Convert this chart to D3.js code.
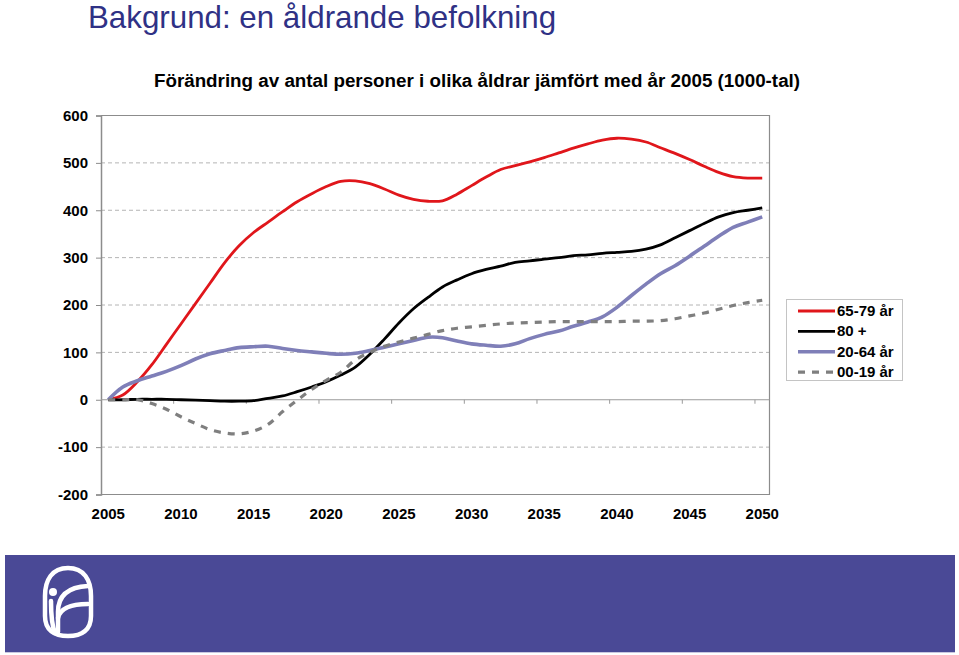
<!DOCTYPE html>
<html>
<head>
<meta charset="utf-8">
<script src="https://cdn.jsdelivr.net/npm/d3@7/dist/d3.min.js"></script>
<style>
  html, body { margin: 0; padding: 0; background: #fff; }
  svg { display: block; }
  text { font-family: "Liberation Sans", Arial, Helvetica, sans-serif; }
</style>
</head>
<body>
<svg id="chart" width="959" height="655"></svg>
<script>
// ---- DATA ----
const years = d3.range(2005, 2051);
const yTicks = [-200, -100, 0, 100, 200, 300, 400, 500, 600];
const xTickLabels = [2005, 2010, 2015, 2020, 2025, 2030, 2035, 2040, 2045, 2050];
const seriesNames = ["65-79 år", "80 +", "20-64 år", "00-19 år"];

const age6579 = [0, 10, 38, 74, 117, 160, 203, 246, 289, 325,
  353, 375, 397, 418, 435, 450, 461, 462, 456, 445,
  432, 423, 419, 420, 434, 452, 470, 486, 494, 502,
  511, 521, 531, 540, 548, 552, 550, 544, 532, 520,
  507, 493, 480, 471, 468, 468];
const age80 = [0, 0, 1, 1, 1, 0, -1, -2, -3, -3,
  -2, 3, 8, 17, 27, 38, 52, 69, 96, 128,
  162, 192, 216, 238, 253, 266, 275, 282, 290, 293,
  297, 300, 304, 306, 309, 311, 313, 318, 327, 342,
  357, 372, 386, 395, 400, 405];
const age2064 = [0, 27, 40, 50, 60, 72, 86, 97, 104, 110,
  112, 113, 108, 104, 101, 98, 96, 98, 104, 111,
  118, 125, 132, 131, 124, 118, 115, 113, 118, 129,
  138, 145, 155, 164, 175, 195, 220, 244, 266, 283,
  303, 324, 345, 364, 375, 386];
const age0019 = [0, 0, 0, -8, -20, -36, -50, -63, -70, -72,
  -66, -52, -25, -1, 22, 41, 58, 84, 100, 113,
  122, 130, 138, 146, 151, 154, 157, 160, 162, 163,
  164, 165, 165, 165, 165, 165, 166, 166, 167, 171,
  177, 183, 191, 199, 205, 210];

const seriesValues = [age6579, age80, age2064, age0019];
const seriesColors = ["#e0161b", "#000000", "#7f7fb8", "#7f7f7f"];
const seriesWidths = [2.8, 2.8, 3.6, 3.2];
const seriesDash = [null, null, null, "7,7"];

// ---- LAYOUT ----
const svg = d3.select("#chart");
const plot = { left: 101, right: 769.5, top: 115.5, bottom: 494.5 };

const x = d3.scaleBand().domain(years).range([plot.left, plot.right]).padding(0);
const xc = d => x(d) + x.bandwidth() / 2;
const y = d3.scaleLinear().domain([-200, 600]).range([plot.bottom, plot.top]);

// Title
svg.append("text")
  .attr("x", 88).attr("y", 27.5)
  .attr("font-size", 31.3)
  .attr("fill", "#2f3185")
  .text("Bakgrund: en åldrande befolkning");

// Subtitle
svg.append("text")
  .attr("x", 477).attr("y", 87)
  .attr("text-anchor", "middle")
  .attr("font-size", 18.8).attr("font-weight", "bold")
  .attr("fill", "#000")
  .text("Förändring av antal personer i olika åldrar jämfört med år 2005 (1000-tal)");

// Grid lines (dashed)
svg.append("g").selectAll("line")
  .data(yTicks.filter(v => v !== 600 && v !== -200 && v !== 0))
  .join("line")
  .attr("x1", plot.left).attr("x2", plot.right)
  .attr("y1", d => y(d)).attr("y2", d => y(d))
  .attr("stroke", "#b4b4b4").attr("stroke-width", 1)
  .attr("stroke-dasharray", "4,3");

// Plot frame (top, right, bottom)
svg.append("path")
  .attr("d", `M${plot.left},${plot.top}H${plot.right}V${plot.bottom}H${plot.left}`)
  .attr("fill", "none").attr("stroke", "#8c8c8c").attr("stroke-width", 1.2);

// Y axis
const yAxis = d3.axisLeft(y).tickValues(yTicks).tickSize(5).tickPadding(8)
  .tickFormat(d => String(d));
const gy = svg.append("g").attr("transform", `translate(${plot.left},0)`).call(yAxis);
gy.select(".domain").attr("stroke", "#8c8c8c").attr("stroke-width", 1.5);
gy.selectAll(".tick line").attr("stroke", "#8c8c8c");
gy.selectAll(".tick text")
  .attr("font-family", "'Liberation Sans', Arial, sans-serif")
  .attr("font-size", 15).attr("font-weight", "bold").attr("fill", "#000");

// Zero axis line with tick marks between categories every 5 years
svg.append("line")
  .attr("x1", plot.left).attr("x2", plot.right)
  .attr("y1", y(0)).attr("y2", y(0))
  .attr("stroke", "#9a9a9a").attr("stroke-width", 1.2);
const boundaryYears = years.filter((d, i) => i > 0 && i % 5 === 0);
svg.append("g").selectAll("line")
  .data(boundaryYears)
  .join("line")
  .attr("x1", d => x(d)).attr("x2", d => x(d))
  .attr("y1", y(0)).attr("y2", y(0) + 4)
  .attr("stroke", "#9a9a9a").attr("stroke-width", 1);

// X labels at bottom
const xAxis = d3.axisBottom(x).tickValues(xTickLabels).tickSize(0).tickPadding(0);
const gx = svg.append("g").attr("transform", `translate(0,${plot.bottom + 14})`).call(xAxis);
gx.select(".domain").remove();
gx.selectAll(".tick text")
  .attr("font-family", "'Liberation Sans', Arial, sans-serif")
  .attr("font-size", 15).attr("font-weight", "bold").attr("fill", "#000");

// Lines
const line = d3.line()
  .x((d, i) => xc(years[i]))
  .y(d => y(d))
  .curve(d3.curveCatmullRom.alpha(0.5));

seriesValues.forEach((vals, k) => {
  svg.append("path")
    .datum(vals)
    .attr("d", line)
    .attr("fill", "none")
    .attr("stroke", seriesColors[k])
    .attr("stroke-width", seriesWidths[k])
    .attr("stroke-linejoin", "round")
    .attr("stroke-dasharray", seriesDash[k]);
});

// Legend
const lg = svg.append("g");
lg.append("rect")
  .attr("x", 786.5).attr("y", 299.5).attr("width", 116).attr("height", 81)
  .attr("fill", "#fff").attr("stroke", "#c4c4c4").attr("stroke-width", 1);
seriesNames.forEach((name, k) => {
  const yy = 311 + k * 20.4;
  lg.append("line")
    .attr("x1", 798).attr("x2", 835).attr("y1", yy).attr("y2", yy)
    .attr("stroke", seriesColors[k]).attr("stroke-width", seriesWidths[k])
    .attr("stroke-dasharray", seriesDash[k]);
  lg.append("text")
    .attr("x", 837).attr("y", yy + 5)
    .attr("font-size", 15).attr("font-weight", "bold").attr("fill", "#000")
    .text(name);
});

// Bottom banner
svg.append("rect")
  .attr("x", 5).attr("y", 555).attr("width", 950).attr("height", 97)
  .attr("fill", "#4a4996");
svg.append("line")
  .attr("x1", 5).attr("x2", 955).attr("y1", 652.5).attr("y2", 652.5)
  .attr("stroke", "#c9c8e0").attr("stroke-width", 1);

// Logo (white emblem)
const logo = svg.append("g").attr("fill", "none").attr("stroke", "#fff")
  .attr("stroke-width", 4.5).attr("stroke-linecap", "round");
logo.append("path")
  .attr("d", "M68,568 C84,568 91,580 91,596 L91,616 C91,630 82,636 68,636 C54,636 45,630 45,616 L45,596 C45,580 52,568 68,568 Z");
logo.append("circle").attr("cx", 53).attr("cy", 592).attr("r", 4)
  .attr("fill", "#fff").attr("stroke", "none");
logo.append("path").attr("d", "M51,601 C51,615 52,626 55,633");
logo.append("path").attr("d", "M58,632 L58,612 C58,596 68,587 88,586");
logo.append("path").attr("d", "M58,618 C60,609 70,604 88,604");
</script>
</body>
</html>
